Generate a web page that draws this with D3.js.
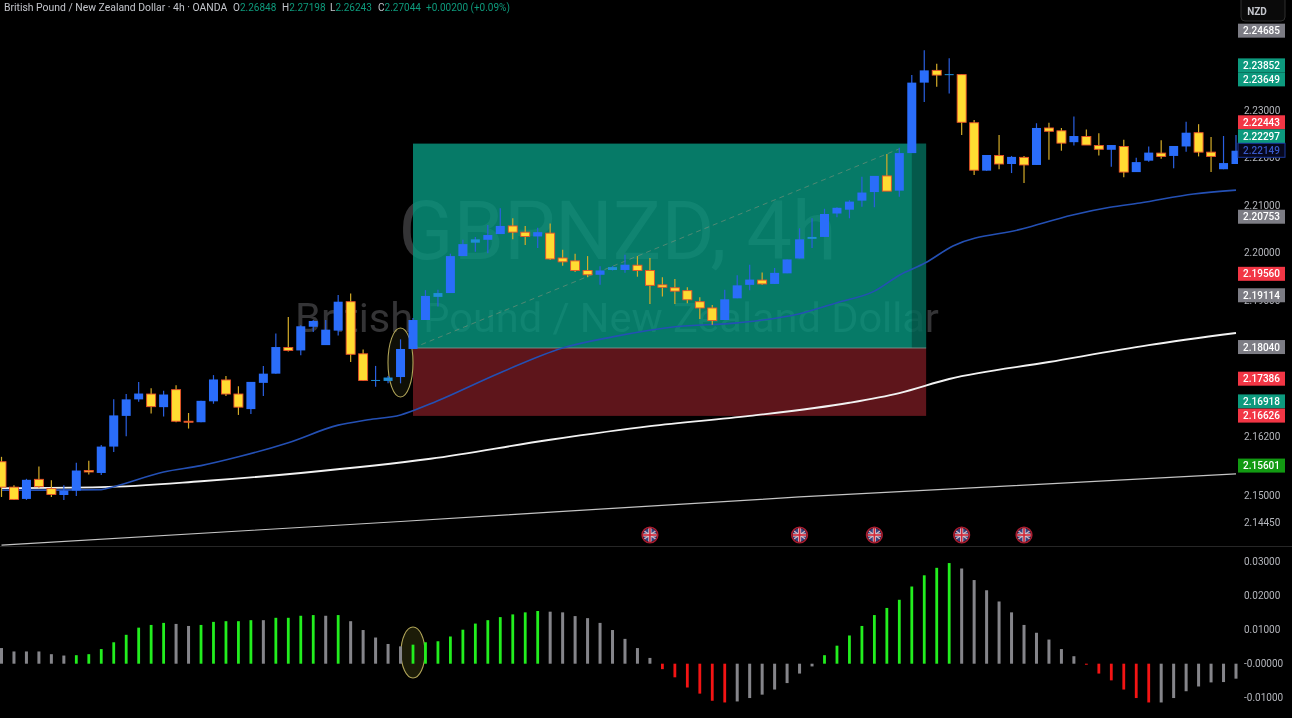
<!DOCTYPE html>
<html><head><meta charset="utf-8">
<script src="https://cdn.jsdelivr.net/npm/d3@7/dist/d3.min.js"></script>
<style>
html,body{margin:0;padding:0;background:#000;overflow:hidden}
svg{display:block;filter:blur(0.3px)}
text{font-family:Roboto,"Noto Sans",sans-serif}
</style></head><body>
<svg id="c" width="1292" height="718"></svg>
<script>
const opens=[2.1568,2.1516,2.1492,2.1532,2.1513,2.1500,2.1509,2.1550,2.1545,2.1599,
2.1662,2.1696,2.1707,2.1680,2.1716,2.1651,2.1649,2.1692,2.1736,2.1707,
2.1676,2.1730,2.1749,2.1803,2.1797,2.1846,2.1808,2.1838,2.1898,2.1790,
2.1735,2.1734,2.1742,2.1800,2.1860,2.1908,2.1916,2.1993,2.2021,2.2027,
2.2039,2.2056,2.2043,2.2034,2.2041,2.1989,2.1983,2.1963,2.1954,2.1964,
2.1964,2.1974,2.1963,2.1933,2.1927,2.1921,2.1898,2.1885,2.1860,2.1905,
2.1933,2.1943,2.1935,2.1957,2.1988,2.2029,2.2033,2.2082,2.2090,2.2109,
2.2127,2.2161,2.2130,2.2209,2.2358,2.2384,2.2375,2.2375,2.2273,2.2172,
2.2204,2.2186,2.2200,2.2184,2.2262,2.2256,2.2232,2.2244,2.2225,2.2216,
2.2223,2.2169,2.2193,2.2209,2.2203,2.2223,2.2252,2.2211,2.2175,2.2186];
const closes=[2.1516,2.1491,2.1531,2.1517,2.1501,2.1509,2.1550,2.1547,2.1599,2.1663,
2.1696,2.1708,2.1681,2.1706,2.1651,2.1649,2.1693,2.1737,2.1707,2.1680,
2.1732,2.1749,2.1804,2.1797,2.1847,2.1858,2.1840,2.1898,2.1789,2.1735,
2.1736,2.1741,2.1800,2.1860,2.1910,2.1916,2.1993,2.2018,2.2028,2.2037,
2.2056,2.2043,2.2034,2.2043,2.1987,2.1981,2.1963,2.1954,2.1963,2.1970,
2.1975,2.1963,2.1932,2.1928,2.1920,2.1902,2.1885,2.1859,2.1903,2.1932,
2.1944,2.1935,2.1958,2.1986,2.2028,2.2033,2.2081,2.2094,2.2107,2.2126,
2.2161,2.2129,2.2209,2.2358,2.2384,2.2374,2.2376,2.2274,2.2173,2.2205,
2.2186,2.2201,2.2184,2.2262,2.2255,2.2230,2.2245,2.2226,2.2217,2.2226,
2.2169,2.2190,2.2210,2.2202,2.2224,2.2252,2.2211,2.2202,2.2188,2.2214];
const highs=[2.1578,2.1520,2.1533,2.1558,2.1530,2.1520,2.1566,2.1570,2.1602,2.1696,
2.1707,2.1732,2.1719,2.1714,2.1725,2.1668,2.1693,2.1746,2.1744,2.1723,
2.1732,2.1765,2.1832,2.1866,2.1849,2.1860,2.1860,2.1912,2.1915,2.1799,
2.1765,2.1744,2.1820,2.1864,2.1922,2.1923,2.1998,2.2027,2.2033,2.2058,
2.2093,2.2072,2.2056,2.2052,2.2061,2.2006,2.1998,2.1993,2.1972,2.1972,
2.1996,2.1993,2.1989,2.1949,2.1945,2.1928,2.1907,2.1891,2.1923,2.1953,
2.1975,2.1959,2.1968,2.1986,2.2051,2.2072,2.2092,2.2095,2.2110,2.2159,
2.2161,2.2207,2.2220,2.2374,2.2427,2.2398,2.2410,2.2375,2.2279,2.2205,
2.2247,2.2203,2.2203,2.2272,2.2273,2.2262,2.2286,2.2259,2.2251,2.2226,
2.2237,2.2199,2.2223,2.2236,2.2224,2.2275,2.2270,2.2243,2.2245,2.2247];
const lows=[2.1496,2.1490,2.1490,2.1514,2.1496,2.1490,2.1498,2.1542,2.1541,2.1588,
2.1620,2.1691,2.1667,2.1661,2.1649,2.1636,2.1649,2.1687,2.1703,2.1664,
2.1666,2.1703,2.1749,2.1795,2.1787,2.1835,2.1808,2.1828,2.1773,2.1734,
2.1722,2.1729,2.1729,2.1800,2.1860,2.1888,2.1916,2.1993,2.2002,2.1999,
2.2039,2.2028,2.2016,2.2010,2.1985,2.1973,2.1960,2.1949,2.1933,2.1963,
2.1958,2.1950,2.1893,2.1909,2.1893,2.1895,2.1862,2.1850,2.1860,2.1905,
2.1922,2.1933,2.1935,2.1957,2.1988,2.2010,2.2033,2.2074,2.2072,2.2096,
2.2095,2.2129,2.2117,2.2209,2.2317,2.2349,2.2335,2.2247,2.2163,2.2172,
2.2175,2.2167,2.2146,2.2184,2.2195,2.2214,2.2225,2.2226,2.2204,2.2180,
2.2158,2.2169,2.2191,2.2197,2.2177,2.2212,2.2202,2.2169,2.2175,2.2186];

const histValues=[.0046,.0036,.0036,.0036,.0028,.0024,.0025,.0028,.0043,.0063,
.0085,.0106,.0114,.0120,.0117,.0111,.0114,.0123,.0125,.0125,
.0128,.0128,.0135,.0135,.0141,.0143,.0141,.0143,.0125,.0099,
.0077,.0058,.0051,.0056,.0063,.0066,.0080,.0100,.0118,.0128,
.0137,.0145,.0151,.0155,.0153,.0151,.0140,.0134,.0120,.0099,
.0073,.0046,.0017,-.0016,-.0040,-.0070,-.0088,-.0109,-.0114,-.0111,
-.0101,-.0091,-.0076,-.0057,-.0029,-.0008,.0025,.0053,.0083,.0111,
.0143,.0164,.0188,.0227,.0260,.0282,.0296,.0280,.0246,.0216,
.0183,.0151,.0114,.0091,.0071,.0043,.0022,-.0003,-.0029,-.0049,
-.0076,-.0101,-.0114,-.0114,-.0101,-.0081,-.0067,-.0055,-.0054,-.0044];
const histStates=("wwwwwwgggg"+"ggggwwgggg"+"gwggggwgww"+"wwwggggggg"+"ggggwwwwww"+
"wwwrrrrrrw"+"wwwwwwgggg"+"gggggggwww"+"wwwwwwwrrr"+"rrrwwwwwww").split("");

const emaFastIdx=[0,4,8,9,13,16,19,23,27,29.4,32,34.4,40,45,49,54,59,64,67,70,72,74.1,76.3,81.9,85.9,88.9,91.3,95.6,99];
const emaFast=[2.1510,2.1510,2.1511,2.1517,2.1547,2.1560,2.1578,2.1607,2.1643,2.1654,2.1664,2.1687,2.1751,2.1802,2.1825,2.1846,2.1854,2.1873,2.1896,2.1920,2.1953,2.1979,2.2014,2.2050,2.2079,2.2095,2.2104,2.2123,2.2131];
const emaSlowIdx=[0,8,16,24,34.4,44,52,60,68,72,76,84,92,99];
const emaSlow=[2.1514,2.1516,2.1528,2.1545,2.1574,2.1613,2.1641,2.1662,2.1689,2.1709,2.1738,2.1773,2.1808,2.1833];
const emaLongIdx=[0,32,64,99];
const emaLong=[2.1398,2.1446,2.1496,2.1543];

const positionStart=33, positionEnd=74.15, positionShade=73;
const entryPrice=2.1802, targetPrice=2.2229, stopPrice=2.1662, dashEndIdx=72, dashEndPrice=2.2218;
const eventCandles=[52,64,70,77,82];

const priceTicks=[2.23,2.22,2.21,2.20,2.19,2.162,2.15,2.1445];
const priceTickLabels=["2.23000","2.22000","2.21000","2.20000","2.19000","2.16200","2.15000","2.14450"];
const histTicks=[.03,.02,.01,0,-.01];
const histTickLabels=["0.03000","0.02000","0.01000","-0.00000","-0.01000"];
const tagValues=[2.24685,2.23852,2.23649,2.22443,2.22297,2.22149,2.20753,2.19560,2.19114,2.18040,2.17386,2.16918,2.16626,2.15601];
const tagKinds=["gray","green","green","red","green","blue","gray","red","gray","gray","red","green","red","lime"];

const title="British Pound / New Zealand Dollar · 4h · OANDA";
const ohlcNames=["O","H","L","C"];
const ohlcValues=["2.26848","2.27198","2.26243","2.27044"];
const changeText="+0.00200 (+0.09%)";

const svg=d3.select("#c");
const x=d3.scaleLinear().domain([0,99]).range([1.5,1236]);
const y=d3.scaleLog().domain([2.15,2.23]).range([495,110]);
const yH=d3.scaleLinear().domain([0,.03]).range([663.7,561.7]);

const defs=svg.append("defs");
defs.append("clipPath").attr("id","main").append("rect").attr("x",0).attr("y",0).attr("width",1238).attr("height",546);

svg.append("rect").attr("width",1292).attr("height",718).attr("fill","#000");
svg.append("line").attr("x1",0).attr("x2",1292).attr("y1",546.5).attr("y2",546.5).attr("stroke","#262626");

const main=svg.append("g").attr("clip-path","url(#main)");

/* watermark sits under the translucent position boxes */
main.append("text").attr("x",617.5).attr("y",259).attr("text-anchor","middle").attr("font-size",81).attr("fill","#343436").text("GBPNZD, 4h");
main.append("text").attr("x",617).attr("y",332).attr("text-anchor","middle").attr("font-size",41.5).attr("fill","#343436").text("British Pound / New Zealand Dollar");

/* position tool */
const pL=x(positionStart), pR=x(positionEnd), pS=x(positionShade);
main.append("rect").attr("x",pL).attr("width",pR-pL).attr("y",y(targetPrice)).attr("height",y(entryPrice)-y(targetPrice)).attr("fill","#089981").attr("fill-opacity",.8);
main.append("rect").attr("x",pS).attr("width",pR-pS).attr("y",y(targetPrice)).attr("height",y(entryPrice)-y(targetPrice)).attr("fill","#000").attr("fill-opacity",.27);
main.append("rect").attr("x",pL).attr("width",pR-pL).attr("y",y(entryPrice)).attr("height",y(stopPrice)-y(entryPrice)).attr("fill","#f23645").attr("fill-opacity",.39);
main.append("line").attr("x1",pL).attr("x2",pR).attr("y1",y(entryPrice)).attr("y2",y(entryPrice)).attr("stroke","#8a9a94").attr("stroke-width",.8);

/* dashed */
main.append("line").attr("x1",x(positionStart)).attr("y1",y(entryPrice)).attr("x2",x(dashEndIdx)).attr("y2",y(dashEndPrice))
 .attr("stroke","#a89a80").attr("stroke-opacity",.45).attr("stroke-width",1).attr("stroke-dasharray","5 4");

/* moving averages */
const line=(idx,vals,g,w,c)=>{
  g.append("path").attr("d",d3.line().x((d,i)=>x(idx[i])).y(d=>y(d)).curve(d3.curveMonotoneX)(vals))
   .attr("fill","none").attr("stroke",c).attr("stroke-width",w);
};
line(emaLongIdx,emaLong,main,1.2,"#c4c4c4");
line(emaSlowIdx,emaSlow,main,1.9,"#f2f2f2");
line(emaFastIdx,emaFast,main,1.6,"#2450b4");

/* ellipse upper */
main.append("ellipse").attr("cx",400.5).attr("cy",362.5).attr("rx",12.5).attr("ry",34.5).attr("fill","#2a2a10").attr("fill-opacity",.35).attr("stroke","#b0a458").attr("stroke-width",1.1);

/* candles */
const cs=main.selectAll("g.k").data(d3.range(opens.length)).join("g").attr("class","k");
const up=i=>closes[i]>=opens[i];
cs.append("line").attr("x1",i=>x(i)).attr("x2",i=>x(i)).attr("y1",i=>y(highs[i])).attr("y2",i=>y(lows[i]))
  .attr("stroke",i=>up(i)?"#2a5fe0":"#d4ac28").attr("stroke-width",1.2);
cs.append("rect").attr("x",i=>x(i)-4.5).attr("width",9)
  .attr("y",i=>y(Math.max(opens[i],closes[i])))
  .attr("height",i=>Math.max(1,Math.abs(y(opens[i])-y(closes[i]))))
  .attr("fill",i=>up(i)?(Math.abs(y(opens[i])-y(closes[i]))<4?"#1f8ed8":"#2a6dfa"):"#ffdc32")
  .attr("stroke",i=>up(i)?"none":"#e8502a").attr("stroke-width",.9);

/* events */
const ev=main.selectAll("g.e").data(eventCandles).join("g").attr("class","e")
  .attr("transform",d=>`translate(${x(d)},535)`);
defs.append("clipPath").attr("id","flag").append("circle").attr("r",7);
const fl=ev.append("g").attr("clip-path","url(#flag)");
fl.append("circle").attr("r",7).attr("fill","#34407c");
[[-7,-5,7,5],[-7,5,7,-5]].forEach(s=>fl.append("line").attr("x1",s[0]).attr("y1",s[1]).attr("x2",s[2]).attr("y2",s[3]).attr("stroke","#d0b4c0").attr("stroke-width",1.4));
fl.append("rect").attr("x",-7).attr("y",-1.6).attr("width",14).attr("height",3.2).attr("fill","#dcc8d0");
fl.append("rect").attr("x",-1.6).attr("y",-7).attr("width",3.2).attr("height",14).attr("fill","#dcc8d0");
fl.append("rect").attr("x",-7).attr("y",-.8).attr("width",14).attr("height",1.6).attr("fill","#d02838");
fl.append("rect").attr("x",-.8).attr("y",-7).attr("width",1.6).attr("height",14).attr("fill","#d02838");
ev.append("circle").attr("r",7.8).attr("fill","none").attr("stroke","#a81c30").attr("stroke-width",1.6);

/* histogram */
const sc={g:"#22ee1e",w:"#85858a",r:"#f41414"};
svg.append("ellipse").attr("cx",413).attr("cy",652.5).attr("rx",12).attr("ry",25.5).attr("fill","#1c1c08").attr("stroke","#b0a458").attr("stroke-width",1.1);
svg.append("g").selectAll("rect").data(histValues).join("rect")
  .attr("x",(d,i)=>x(i)-(histStates[i]=="w"?1.5:1.4)).attr("width",(d,i)=>histStates[i]=="w"?3:2.8)
  .attr("y",d=>Math.min(yH(d),yH(0))).attr("height",d=>Math.max(1,Math.abs(yH(d)-yH(0))))
  .attr("fill",(d,i)=>sc[histStates[i]]);

/* axes */
const pa=svg.append("g").attr("transform","translate(1238,0)")
  .call(d3.axisRight(y).tickValues(priceTicks).tickSize(0).tickPadding(6).tickFormat((d,i)=>priceTickLabels[i]));
const ha=svg.append("g").attr("transform","translate(1238,0)")
  .call(d3.axisRight(yH).tickValues(histTicks).tickSize(0).tickPadding(6).tickFormat((d,i)=>histTickLabels[i]));
[pa,ha].forEach(a=>{a.select(".domain").remove();a.selectAll("text").attr("fill","#b4b6bc").attr("font-size",10).attr("font-family","Roboto,'Noto Sans',sans-serif");});

/* tags, pushed upward when they would overlap */
const tagH=14; let prev=1e9;
const tagY=tagValues.map(v=>y(v));
for(let i=tagY.length-1;i>=0;i--){ if(tagY[i]>prev-tagH) tagY[i]=prev-tagH; prev=tagY[i]; }
const tagFill={gray:"#7c7c84",green:"#0d9a7e",red:"#f23645",blue:"#07071c",lime:"#129a12"};
const tg=svg.selectAll("g.t").data(tagValues).join("g").attr("class","t").attr("transform",(d,i)=>`translate(1238,${tagY[i]})`);
tg.append("rect").attr("y",-tagH/2).attr("width",47).attr("height",tagH).attr("fill",(d,i)=>tagFill[tagKinds[i]])
  .attr("stroke",(d,i)=>tagKinds[i]=="blue"?"#1c3aa0":"none");
tg.append("text").attr("x",23.5).attr("y",3.6).attr("text-anchor","middle").attr("font-size",10).attr("font-weight",500)
  .attr("fill",(d,i)=>tagKinds[i]=="blue"?"#3858c8":"#fff").text(d=>d.toFixed(5));

/* NZD button */
svg.append("rect").attr("x",1241).attr("y",-4).attr("width",44).attr("height",25).attr("rx",4).attr("fill","#0a0a0a").attr("stroke","#2e2e2e");
svg.append("text").attr("x",1257).attr("y",14.5).attr("text-anchor","middle").attr("font-size",10).attr("font-weight",700).attr("fill","#c4c6cc").text("NZD");

/* header */
svg.append("text").attr("x",4).attr("y",11).attr("font-size",10.4).attr("fill","#c4c6cc").text(title);
const ohlcX=[233,282,330,378];
ohlcNames.forEach((n,i)=>{
  const t=svg.append("text").attr("x",ohlcX[i]).attr("y",11).attr("font-size",10);
  t.append("tspan").attr("fill","#c4c6cc").text(n);
  t.append("tspan").attr("fill","#0e9a7c").text(ohlcValues[i]);
});
svg.append("text").attr("x",426).attr("y",11).attr("font-size",10).attr("fill","#0e9a7c").text(changeText);
</script>
</body></html>
